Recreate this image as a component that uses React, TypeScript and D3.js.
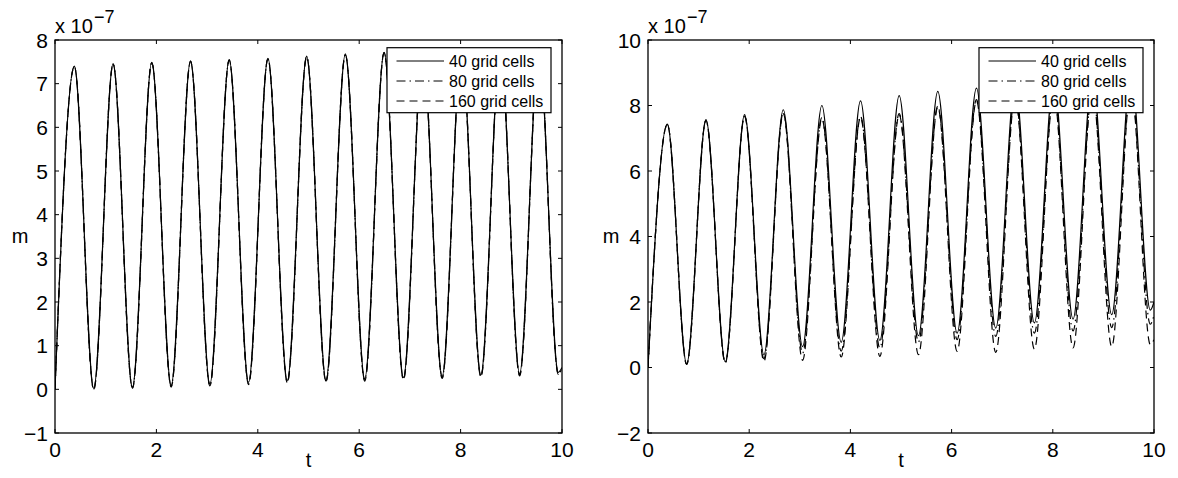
import React from "react";
import * as d3 from "d3";

// ---- data (in units of 1e-7) ----
const troughT = [0, 0.764, 1.527, 2.291, 3.055, 3.818, 4.582, 5.345, 6.109, 6.873, 7.636, 8.4, 9.164, 9.927];
const peakT = [0.382, 1.146, 1.909, 2.673, 3.436, 4.2, 4.964, 5.727, 6.491, 7.255, 8.018, 8.782, 9.545];
const endT = 10;

const leftPeak40 = [7.40, 7.46, 7.49, 7.52, 7.55, 7.58, 7.63, 7.68, 7.72, 7.75, 7.78, 7.80, 7.82];
const leftPeak80 = [7.39, 7.45, 7.48, 7.51, 7.54, 7.57, 7.62, 7.67, 7.71, 7.74, 7.77, 7.79, 7.81];
const leftPeak160 = [7.39, 7.45, 7.48, 7.51, 7.54, 7.57, 7.61, 7.66, 7.70, 7.73, 7.76, 7.78, 7.80];
const leftTrough40 = [0, 0.02, 0.05, 0.09, 0.12, 0.16, 0.2, 0.22, 0.24, 0.27, 0.3, 0.33, 0.36, 0.39];
const leftTrough80 = [0, 0.0, 0.03, 0.07, 0.09, 0.13, 0.17, 0.19, 0.21, 0.24, 0.27, 0.30, 0.33, 0.36];
const leftTrough160 = [0, -0.01, 0.02, 0.05, 0.08, 0.11, 0.15, 0.17, 0.19, 0.22, 0.25, 0.28, 0.31, 0.34];
const leftEnd = [0.5, 0.47, 0.45];

const rightPeak40 = [7.43, 7.57, 7.72, 7.87, 8.0, 8.14, 8.3, 8.43, 8.53, 8.65, 8.77, 8.88, 8.98];
const rightPeak80 = [7.42, 7.55, 7.68, 7.78, 7.63, 7.67, 7.75, 7.98, 8.18, 8.3, 8.4, 8.5, 8.6];
const rightPeak160 = [7.42, 7.54, 7.66, 7.75, 7.6, 7.64, 7.72, 7.95, 8.14, 8.26, 8.36, 8.46, 8.56];
const rightTrough40 = [0, 0.11, 0.17, 0.39, 0.64, 0.77, 0.83, 0.97, 1.05, 1.2, 1.36, 1.48, 1.61, 1.75];
const rightTrough80 = [0, 0.1, 0.15, 0.27, 0.44, 0.5, 0.6, 0.78, 0.85, 0.95, 1.05, 1.12, 1.22, 1.32];
const rightTrough160 = [0, 0.1, 0.14, 0.19, 0.22, 0.32, 0.34, 0.39, 0.49, 0.46, 0.56, 0.6, 0.64, 0.7];
const rightEnd = [2.0, 1.6, 0.85];

const xTicks = [0, 2, 4, 6, 8, 10];
const leftYTicks = [-1, 0, 1, 2, 3, 4, 5, 6, 7, 8];
const rightYTicks = [-2, 0, 2, 4, 6, 8, 10];
const legendLabels = ["40 grid cells", "80 grid cells", "160 grid cells"];
const dashStyles = [null, "9,4,1.5,4", "8,5"];

const FONT = "'Liberation Sans', Arial, Helvetica, sans-serif";

function buildSeries(troughs: number[], peaks: number[], end: number): [number, number][] {
  const pts: [number, number][] = [];
  troughs.forEach((v, i) => {
    pts.push([troughT[i], v]);
    if (i < peaks.length) pts.push([peakT[i], peaks[i]]);
  });
  pts.push([endT, end]);
  return pts;
}

type PanelProps = {
  id: string;
  x0: number;
  x1: number;
  y0: number;
  y1: number;
  yDomain: [number, number];
  yTicks: number[];
  series: [number, number][][];
  ylabelX: number;
};

function Panel({ id, x0, x1, y0, y1, yDomain, yTicks, series, ylabelX }: PanelProps) {
  const x = d3.scaleLinear().domain([0, 10]).range([x0, x1]);
  const y = d3.scaleLinear().domain(yDomain).range([y1, y0]);
  const line = d3
    .line<[number, number]>()
    .x((d) => x(d[0]))
    .y((d) => y(d[1]))
    .curve(d3.curveMonotoneX);
  const fmt = d3.format("d");
  const tl = 4;
  const lw = 164;
  const lx = x1 - 11 - lw;
  const ly = 47.7;
  const order = [2, 1, 0];
  const TF = 21;
  return (
    <g>
      <defs>
        <clipPath id={id}>
          <rect x={x0} y={y0} width={x1 - x0} height={y1 - y0} />
        </clipPath>
      </defs>
      <rect x={x0} y={y0} width={x1 - x0} height={y1 - y0} fill="#fff" />
      <g clipPath={`url(#${id})`}>
        {order.map((k) => (
          <path
            key={k}
            d={line(series[k]) || ""}
            fill="none"
            stroke="#000"
            strokeWidth={1.2}
            strokeDasharray={dashStyles[k] || undefined}
          />
        ))}
      </g>
      {/* ticks */}
      {xTicks.map((t) => (
        <g key={"xt" + t}>
          <line x1={x(t)} x2={x(t)} y1={y1} y2={y1 - tl} stroke="#000" />
          <line x1={x(t)} x2={x(t)} y1={y0} y2={y0 + tl} stroke="#000" />
          <text x={x(t)} y={457} textAnchor="middle" fontSize={TF} fontFamily={FONT}>
            {fmt(t)}
          </text>
        </g>
      ))}
      {yTicks.map((t) => (
        <g key={"yt" + t}>
          <line x1={x0} x2={x0 + tl} y1={y(t)} y2={y(t)} stroke="#000" />
          <line x1={x1} x2={x1 - tl} y1={y(t)} y2={y(t)} stroke="#000" />
          <text x={x0 - 7} y={y(t) + 7.5} textAnchor="end" fontSize={TF} fontFamily={FONT}>
            {fmt(t)}
          </text>
        </g>
      ))}
      <rect x={x0} y={y0} width={x1 - x0} height={y1 - y0} fill="none" stroke="#000" strokeWidth={1.3} />
      {/* exponent */}
      <text x={x0} y={33} fontSize={20} fontFamily={FONT}>
        x 10
      </text>
      <text x={x0 + 39} y={23} fontSize={18} fontFamily={FONT}>
        −7
      </text>
      {/* axis labels */}
      <text x={(x0 + x1) / 2} y={467} textAnchor="middle" fontSize={20} fontFamily={FONT}>
        t
      </text>
      <text x={ylabelX} y={243} textAnchor="middle" fontSize={20} fontFamily={FONT}>
        m
      </text>
      {/* legend */}
      <rect x={lx} y={ly} width={lw} height={65} fill="#fff" stroke="#000" strokeWidth={1.2} />
      {legendLabels.map((lab, i) => {
        const cy = ly + 13.3 + i * 20;
        return (
          <g key={lab}>
            <line
              x1={lx + 9.5}
              x2={lx + 57}
              y1={cy}
              y2={cy}
              stroke="#000"
              strokeWidth={1}
              strokeDasharray={dashStyles[i] || undefined}
            />
            <text x={lx + 62} y={cy + 5.8} fontSize={16} fontFamily={FONT}>
              {lab}
            </text>
          </g>
        );
      })}
    </g>
  );
}

export default function App() {
  const leftSeries = [
    buildSeries(leftTrough40, leftPeak40, leftEnd[0]),
    buildSeries(leftTrough80, leftPeak80, leftEnd[1]),
    buildSeries(leftTrough160, leftPeak160, leftEnd[2]),
  ];
  const rightSeries = [
    buildSeries(rightTrough40, rightPeak40, rightEnd[0]),
    buildSeries(rightTrough80, rightPeak80, rightEnd[1]),
    buildSeries(rightTrough160, rightPeak160, rightEnd[2]),
  ];
  return (
    <svg
      width={1178}
      height={478}
      style={{ position: "absolute", left: 0, top: 0, background: "#fff" }}
    >
      <rect x={0} y={0} width={1178} height={478} fill="#fff" />
      <Panel
        id="clipL"
        x0={55}
        x1={562}
        y0={40}
        y1={433}
        yDomain={[-1, 8]}
        yTicks={leftYTicks}
        series={leftSeries}
        ylabelX={20}
      />
      <Panel
        id="clipR"
        x0={648}
        x1={1154}
        y0={40}
        y1={433}
        yDomain={[-2, 10]}
        yTicks={rightYTicks}
        series={rightSeries}
        ylabelX={611}
      />
    </svg>
  );
}
